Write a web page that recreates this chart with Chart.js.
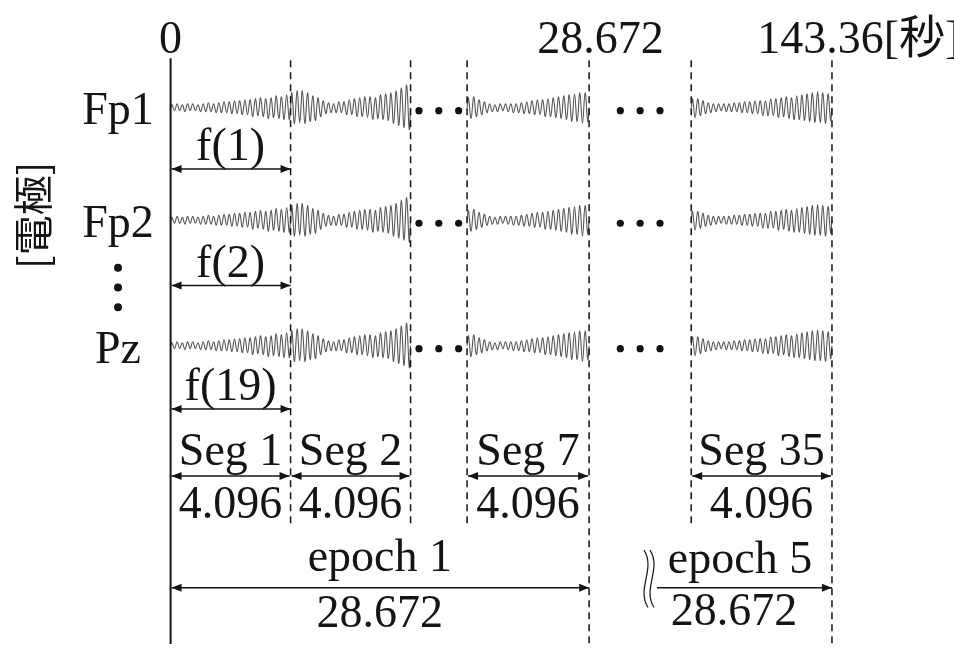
<!DOCTYPE html>
<html>
<head>
<meta charset="utf-8">
<title>EEG segmentation</title>
<script src="https://cdn.jsdelivr.net/npm/chart.js@4"></script>
<style>
  html, body { margin: 0; padding: 0; background: #ffffff; }
  #wrap { width: 954px; height: 648px; }
</style>
</head>
<body>
<div id="wrap"><canvas id="c" width="954" height="648"></canvas></div>
<script>
// ---- data ----
const CHANNELS = ['Fp1', 'Fp2', 'Pz'];
const CHANNEL_FEATURES = ['f(1)', 'f(2)', 'f(19)'];
const SEGMENTS = [1, 2, 7, 35];
const SEG_LENGTH = 4.096;      // seconds per segment
const EPOCH_LENGTH = 28.672;   // seconds per epoch (7 segments)
const TOTAL_LENGTH = 143.36;   // seconds (5 epochs)
const EPOCHS = [1, 5];
const AXIS_LABELS = ['0', '28.672', '143.36[秒]'];
const ELECTRODE_TITLE = '[電極]';

// signal extrema within each displayed segment (amplitude units)
const WAVE_SEG1 = [3,-3,4,-3,3,-4,4,-3,4,-3,3,-4,4,-4,5,-4,4,-5,5,-5,6,-5,6,-6,7,-6,7,-7,8,-7,8,-9,9,-8,10,-9,9,-11,10,-10,12,-11,11,-12,13,-12];
const WAVE_SEG2 = [15,-16,17,-15,17,-16,15,-14,12,-13,10,-9,7,-6,5,-5,4,-5,6,-5,6,-7,8,-7,9,-9,10,-9,11,-10,11,-12,10,-11,13,-12,14,-13,15,-16,17,-18,20,-20,23,-22];
const WAVE_SEG7 = [10,-11,11,-9,8,-7,6,-5,4,-4,3,-4,4,-3,4,-4,4,-5,4,-5,5,-6,6,-6,7,-7,8,-7,8,-9,9,-9,10,-10,11,-11,12,-12,13,-14,14,-14,15,-16,15,-14];
const WAVE_SEG35 = [9,-10,9,-8,7,-6,5,-5,4,-4,4,-3,4,-4,4,-4,5,-4,5,-5,6,-5,6,-6,7,-6,7,-8,7,-8,9,-8,9,-10,10,-9,11,-11,10,-12,12,-12,13,-13,14,-14,15,-15,16,-15,15,-16,14,-13];
const WAVES = { 1: WAVE_SEG1, 2: WAVE_SEG2, 7: WAVE_SEG7, 35: WAVE_SEG35 };

// ---- layout (broken time axis: one slot per displayed segment) ----
const SLOTS = { 1: [0, 1], 2: [1, 2], 7: [2.471, 3.488], 35: [4.339, 5.512] };
const X_MIN = -1.3884, X_MAX = 6.4959;
const ROW_Y = [105, 219, 346];
const GAP_DOTS = [[2, 2.471], [3.488, 4.339]];

// ---- datasets ----
const datasets = [];
CHANNELS.forEach((ch, r) => {
  SEGMENTS.forEach(seg => {
    const vals = WAVES[seg];
    const [a, b] = SLOTS[seg];
    const n = vals.length;
    const pts = [{ x: a, y: ROW_Y[r] }];
    vals.forEach((v, i) => pts.push({ x: a + (i + 0.5) / n * (b - a), y: ROW_Y[r] - v }));
    pts.push({ x: b, y: ROW_Y[r] });
    datasets.push({
      type: 'line', label: ch + ' Seg ' + seg, data: pts,
      borderColor: '#555555', borderWidth: 1.1, pointRadius: 0, tension: 0.4, fill: false
    });
  });
  const dots = [];
  GAP_DOTS.forEach(([a, b]) => {
    const mid = (a + b) / 2, step = 20 / 121;
    [-1, 0, 1].forEach(k => dots.push({ x: mid + k * step, y: ROW_Y[r] + 3 }));
  });
  datasets.push({
    type: 'scatter', label: ch + ' …', data: dots,
    pointRadius: 3.6, pointBackgroundColor: '#111', pointBorderWidth: 0, showLine: false
  });
});

const FONT = '46px "Liberation Serif", "Noto Sans CJK JP", serif';

function arrowHead(ctx, x, y, dir) {
  ctx.beginPath();
  ctx.moveTo(x, y);
  ctx.lineTo(x - dir * 10, y - 4);
  ctx.lineTo(x - dir * 10, y + 4);
  ctx.closePath();
  ctx.fill();
}
function arrow(ctx, x1, x2, y, left, right) {
  ctx.beginPath();
  ctx.moveTo(x1, y); ctx.lineTo(x2, y);
  ctx.stroke();
  if (left) arrowHead(ctx, x1, y, -1);
  if (right) arrowHead(ctx, x2, y, 1);
}
function decimalAligned(ctx, text, x, y) {
  const dot = text.indexOf('.');
  const pre = ctx.measureText(text.slice(0, dot)).width;
  const dw = ctx.measureText('.').width;
  ctx.textAlign = 'left';
  ctx.fillText(text, x - pre - dw / 2, y);
}

const diagram = {
  id: 'diagram',
  afterDatasetsDraw(chart) {
    const ctx = chart.ctx;
    const xs = chart.scales.x, ys = chart.scales.y;
    const px = v => xs.getPixelForValue(v);
    const py = v => ys.getPixelForValue(v);
    ctx.save();
    ctx.fillStyle = '#141414';
    ctx.strokeStyle = '#141414';
    ctx.textBaseline = 'alphabetic';

    // time origin
    ctx.lineWidth = 2;
    ctx.beginPath(); ctx.moveTo(px(0), py(55)); ctx.lineTo(px(0), py(648)); ctx.stroke();

    // segment boundaries
    ctx.lineWidth = 1.5;
    ctx.setLineDash([7, 5]);
    const bounds = [[1, 530], [2, 530], [SLOTS[7][0], 530], [SLOTS[7][1], 648], [SLOTS[35][0], 530], [SLOTS[35][1], 648]];
    bounds.forEach(([v, bottom]) => {
      ctx.beginPath(); ctx.moveTo(px(v), py(57)); ctx.lineTo(px(v), py(bottom)); ctx.stroke();
    });
    ctx.setLineDash([]);

    ctx.font = FONT;
    // time labels
    ctx.textAlign = 'center';
    ctx.fillText(AXIS_LABELS[0], px(0), py(50));
    decimalAligned(ctx, AXIS_LABELS[1], px(SLOTS[7][1]), py(50));
    decimalAligned(ctx, AXIS_LABELS[2], px(SLOTS[35][1]), py(50));

    // electrode labels
    ctx.textAlign = 'center';
    CHANNELS.forEach((ch, r) => ctx.fillText(ch, 118, py(ROW_Y[r] + 17)));
    [267, 287, 307].forEach(y => { ctx.beginPath(); ctx.arc(118, py(y), 4, 0, Math.PI * 2); ctx.fill(); });

    // electrode axis title
    ctx.save();
    ctx.translate(33, py(214));
    ctx.rotate(-Math.PI / 2);
    ctx.font = '40px "Noto Sans CJK JP", sans-serif';
    ctx.textAlign = 'center';
    ctx.textBaseline = 'middle';
    ctx.fillText(ELECTRODE_TITLE, 0, 0);
    ctx.restore();

    // feature vectors per channel
    ctx.lineWidth = 1.5;
    const fArrowY = [167, 285, 410];
    CHANNEL_FEATURES.forEach((f, r) => {
      ctx.textAlign = 'center';
      ctx.fillText(f, (px(0) + px(1)) / 2, py(fArrowY[r] - 9));
      arrow(ctx, px(0) + 1, px(1), py(fArrowY[r]), true, true);
    });

    // segments
    SEGMENTS.forEach(seg => {
      const [a, b] = SLOTS[seg];
      const cx = (px(a) + px(b)) / 2;
      ctx.textAlign = 'center';
      ctx.fillText('Seg ' + seg, cx, py(467));
      arrow(ctx, px(a) + 1, px(b) - 1, py(478), true, true);
      ctx.fillText(SEG_LENGTH.toFixed(3), cx, py(520));
    });

    // epochs
    const e1a = px(0), e1b = px(SLOTS[7][1]);
    ctx.textAlign = 'center';
    ctx.fillText('epoch ' + EPOCHS[0], (e1a + e1b) / 2, py(574));
    arrow(ctx, e1a + 1, e1b, py(591), true, true);
    ctx.fillText(EPOCH_LENGTH.toFixed(3), (e1a + e1b) / 2, py(631));

    const brk = 644, e5b = px(SLOTS[35][1]);
    ctx.lineWidth = 1.2;
    [0, 6].forEach(d => {
      ctx.beginPath();
      ctx.moveTo(brk + d, py(553));
      ctx.bezierCurveTo(brk + d + 12, py(572), brk + d - 8, py(592), brk + d + 4, py(611));
      ctx.stroke();
    });
    ctx.lineWidth = 1.5;
    ctx.fillText('epoch ' + EPOCHS[1], (brk + e5b) / 2 + 2, py(576));
    arrow(ctx, brk + 13, e5b, py(591), false, true);
    ctx.fillText(EPOCH_LENGTH.toFixed(3), (brk + e5b) / 2 - 4, py(629));
    ctx.restore();
  }
};

new Chart(document.getElementById('c'), {
  type: 'line',
  data: { datasets },
  options: {
    responsive: false,
    animation: false,
    events: [],
    layout: { padding: 0 },
    plugins: { legend: { display: false }, tooltip: { enabled: false } },
    scales: {
      x: { type: 'linear', display: false, min: X_MIN, max: X_MAX },
      y: { type: 'linear', display: false, min: 0, max: 648, reverse: true }
    }
  },
  plugins: [diagram]
});
</script>
</body>
</html>
